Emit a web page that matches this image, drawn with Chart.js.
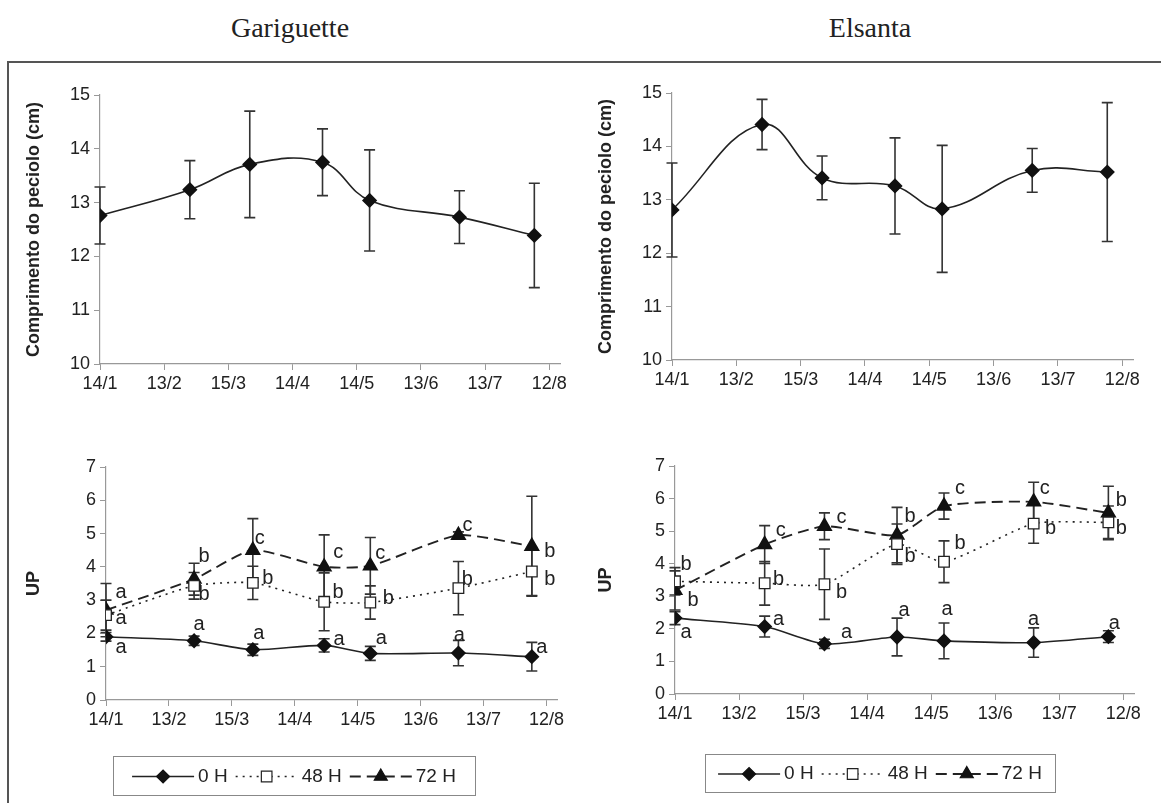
<!DOCTYPE html>
<html>
<head>
<meta charset="utf-8">
<script src="https://cdn.jsdelivr.net/npm/chart.js@4.4.1/dist/chart.umd.min.js"></script>
<style>
  body { margin: 0; background: #fff; width: 1161px; height: 803px; overflow: hidden; position: relative; }
  .title { position: absolute; top: 12px; width: 300px; text-align: center; font: 28px "Liberation Serif", "DejaVu Serif", serif; color: #222; }
  .frame { position: absolute; left: 7px; top: 61px; width: 1200px; height: 800px; border-left: 2px solid #555; border-top: 2px solid #555; }
  canvas { position: absolute; }
</style>
</head>
<body>
<div class="title" style="left:140px">Gariguette</div>
<div class="title" style="left:720px">Elsanta</div>
<div class="frame"></div>
<canvas id="tl" style="left:20px;top:66px" width="560" height="340"></canvas>
<canvas id="tr" style="left:592px;top:66px" width="565" height="336"></canvas>
<canvas id="bl" style="left:20px;top:440px" width="560" height="363"></canvas>
<canvas id="br" style="left:592px;top:440px" width="565" height="363"></canvas>
<script>
// data
var tickDays = [0, 30, 60, 90, 120, 150, 180, 210];
var tickLabels = ["14/1", "13/2", "15/3", "14/4", "14/5", "13/6", "13/7", "12/8"];
var sampleDays = [0, 42, 70, 104, 126, 168, 203];

var garPeciolo = [12.76, 13.24, 13.71, 13.75, 13.04, 12.73, 12.39];
var garPecioloErr = [0.53, 0.54, 0.99, 0.62, 0.94, 0.49, 0.97];
var elsPeciolo = [12.81, 14.41, 13.41, 13.26, 12.83, 13.55, 13.52];
var elsPecioloErr = [0.88, 0.47, 0.41, 0.9, 1.19, 0.41, 1.3];

var garUP0 = [1.9, 1.78, 1.51, 1.64, 1.4, 1.41, 1.3];
var garUP0Err = [0.13, 0.14, 0.17, 0.2, 0.21, 0.38, 0.43];
var garUP48 = [2.55, 3.43, 3.52, 2.95, 2.93, 3.36, 3.86];
var garUP48Err = [0.45, 0.4, 0.5, 0.87, 0.5, 0.8, 0.72];
var garUP72 = [2.7, 3.63, 4.5, 4.0, 4.03, 4.95, 4.62];
var garUP72Err = [0.8, 0.48, 0.95, 0.96, 0.85, 0.1, 1.5];

var elsUP0 = [2.33, 2.07, 1.54, 1.75, 1.63, 1.58, 1.76];
var elsUP0Err = [0.2, 0.32, 0.14, 0.58, 0.55, 0.45, 0.18];
var elsUP48 = [3.46, 3.4, 3.37, 4.6, 4.06, 5.23, 5.27];
var elsUP48Err = [0.42, 0.67, 1.08, 0.62, 0.64, 0.6, 0.5];
var elsUP72 = [3.18, 4.59, 5.15, 4.88, 5.77, 5.9, 5.56];
var elsUP72Err = [0.6, 0.58, 0.41, 0.85, 0.4, 0.6, 0.82];

// significance letters
var garL0 = ["a", "a", "a", "a", "a", "a", "a"];
var garL48 = ["a", "b", "b", "b", "b", "b", "b"];
var garL72 = ["a", "b", "c", "c", "c", "c", "b"];
var elsL0 = ["a", "a", "a", "a", "a", "a", "a"];
var elsL48 = ["b", "b", "b", "b", "b", "b", "b"];
var elsL72 = ["b", "c", "c", "b", "c", "c", "b"];

var seriesNames = ["0 H", "48 H", "72 H"];

// letter offsets (px) from each marker
var garOff0 = [[15, 11], [5, -16], [6, -16], [15, -6], [11, -15], [1, -18], [10, -9]];
var garOff48 = [[15, 3], [10, 9], [15, -4], [14, -9], [18, -4], [9, -9], [18, 8]];
var garOff72 = [[15, -18], [10, -23], [7, -12], [14, -14], [10, -12], [9, -10], [18, 5]];
var elsOff0 = [[11, 14], [14, -7], [22, -11], [7, -27], [3, -31], [0, -23], [6, -13]];
var elsOff48 = [[11, -17], [14, -4], [17, 8], [13, 12], [16, -18], [17, 5], [13, 6]];
var elsOff72 = [[18, 10], [16, -14], [17, -9], [13, -19], [16, -18], [11, -13], [13, -12]];

Chart.defaults.font.family = "'Liberation Sans', Arial, sans-serif";
Chart.defaults.font.size = 18;
Chart.defaults.color = "#222";

function pts(vals) {
  return vals.map(function (v, i) {
    return { x: sampleDays[i], y: v };
  });
}

//error bars
var errorBars = {
  id: "errorBars",
  beforeDatasetsDraw: function (chart) {
    var ctx = chart.ctx;
    var ys = chart.scales.y;
    chart.data.datasets.forEach(function (ds, i) {
      if (!ds.errors) return;
      chart.getDatasetMeta(i).data.forEach(function (pt, j) {
        var v = ds.data[j].y, e = ds.errors[j];
        var top = ys.getPixelForValue(v + e), bot = ys.getPixelForValue(v - e);
        ctx.save();
        ctx.strokeStyle = "#333";
        ctx.lineWidth = 1.6;
        ctx.beginPath();
        ctx.moveTo(pt.x, top); ctx.lineTo(pt.x, bot);
        ctx.moveTo(pt.x - 5.5, top); ctx.lineTo(pt.x + 5.5, top);
        ctx.moveTo(pt.x - 5.5, bot); ctx.lineTo(pt.x + 5.5, bot);
        ctx.stroke();
        ctx.restore();
      });
    });
  }
};

//letters
var letters = {
  id: "letters",
  afterDatasetsDraw: function (chart) {
    var ctx = chart.ctx;
    chart.data.datasets.forEach(function (ds, i) {
      if (!ds.letters) return;
      chart.getDatasetMeta(i).data.forEach(function (pt, j) {
        ctx.save();
        ctx.font = "20px 'Liberation Sans', Arial, sans-serif";
        ctx.fillStyle = "#222";
        ctx.textAlign = "center";
        ctx.textBaseline = "middle";
        ctx.fillText(ds.letters[j], pt.x + ds.letterOffsets[j][0], pt.y + ds.letterOffsets[j][1]);
        ctx.restore();
      });
    });
  }
};

//legend box
var boxLegend = {
  id: "boxLegend",
  afterDraw: function (chart, args, opts) {
    if (!opts.box) return;
    var ctx = chart.ctx, b = opts.box;
    ctx.save();
    ctx.strokeStyle = "#888";
    ctx.lineWidth = 1;
    ctx.strokeRect(b.x + 0.5, b.y + 0.5, b.w, b.h);
    ctx.font = "19px 'Liberation Sans', Arial, sans-serif";
    var seg = 62, gap = 4, sep = 8;
    var total = 0;
    chart.data.datasets.forEach(function (ds, i) {
      total += seg + gap + ctx.measureText(ds.label).width + (i ? sep : 0);
    });
    var x = b.x + (b.w - total) / 2, y = b.y + b.h / 2 + 1;
    chart.data.datasets.forEach(function (ds, i) {
      if (i) x += sep;
      ctx.strokeStyle = ds.borderColor;
      ctx.lineWidth = ds.borderWidth;
      ctx.setLineDash(ds.borderDash || []);
      ctx.beginPath();
      ctx.moveTo(x, y); ctx.lineTo(x + seg, y);
      ctx.stroke();
      ctx.setLineDash([]);
      ctx.fillStyle = ds.pointBackgroundColor;
      ctx.strokeStyle = ds.pointBorderColor;
      ctx.lineWidth = 1.2;
      Chart.helpers.drawPoint(ctx, {
        pointStyle: ds.pointStyle, radius: ds.pointRadius, borderWidth: 1.2
      }, x + seg / 2, y);
      x += seg + gap;
      ctx.fillStyle = "#222";
      ctx.textBaseline = "middle";
      ctx.fillText(ds.label, x, y);
      x += ctx.measureText(ds.label).width;
    });
    ctx.restore();
  }
};

function makePanel(id, cfg) {
  var cv = document.getElementById(id);
  var W = cv.width;
  new Chart(cv.getContext("2d"), {
    type: "line",
    data: { datasets: cfg.datasets },
    options: {
      responsive: false,
      animation: false,
      layout: {
        padding: { top: cfg.area.top, right: W - cfg.area.right, bottom: cfg.padBottom || 0, left: 0 }
      },
      plugins: {
        legend: { display: false },
        tooltip: { enabled: false },
        boxLegend: { box: cfg.legendBox }
      },
      scales: {
        x: {
          type: "linear",
          min: 0,
          max: 215,
          afterBuildTicks: function (s) {
            s.ticks = tickDays.map(function (v) { return { value: v }; });
          },
          afterFit: function (s) {
            s.height = cfg.xHeight;
          },
          ticks: {
            autoSkip: false,
            maxRotation: 0,
            padding: 3,
            callback: function (v) {
              var k = tickDays.indexOf(v);
              return k >= 0 ? tickLabels[k] : "";
            }
          },
          grid: { drawOnChartArea: false, tickLength: 6, color: "#999" },
          border: { color: "#999", width: 1.2 }
        },
        y: {
          min: cfg.yMin,
          max: cfg.yMax,
          afterFit: function (s) {
            s.width = cfg.area.left;
          },
          ticks: { stepSize: 1, padding: 4 },
          grid: { drawOnChartArea: false, tickLength: 6, color: "#999" },
          border: { color: "#999", width: 1.2 },
          title: {
            display: true,
            text: cfg.yTitle,
            font: { weight: "bold", size: 18 },
            color: "#222",
            padding: 3
          }
        }
      }
    },
    plugins: [errorBars, letters, boxLegend]
  });
}

function petioleSet(vals, errs) {
  return [{
    label: "peciolo",
    data: pts(vals),
    errors: errs,
    borderColor: "#222",
    borderWidth: 1.6,
    tension: 0.4,
    pointStyle: "rectRot",
    pointRadius: 6.5,
    pointBackgroundColor: "#111",
    pointBorderColor: "#111"
  }];
}

function upSets(v0, e0, l0, o0, v48, e48, l48, o48, v72, e72, l72, o72) {
  return [
    {
      label: seriesNames[0], data: pts(v0), errors: e0, letters: l0, letterOffsets: o0,
      borderColor: "#222", borderWidth: 1.6, tension: 0.25,
      pointStyle: "rectRot", pointRadius: 6.5, pointBackgroundColor: "#111", pointBorderColor: "#111"
    },
    {
      label: seriesNames[1], data: pts(v48), errors: e48, letters: l48, letterOffsets: o48,
      borderColor: "#222", borderWidth: 1.6, borderDash: [2, 5], tension: 0.2,
      pointStyle: "rect", pointRadius: 7.5, pointBackgroundColor: "#fff", pointBorderColor: "#222", pointBorderWidth: 1.3
    },
    {
      label: seriesNames[2], data: pts(v72), errors: e72, letters: l72, letterOffsets: o72,
      borderColor: "#222", borderWidth: 1.9, borderDash: [11, 6], tension: 0.2,
      pointStyle: "triangle", pointRadius: 7.5, pointBackgroundColor: "#111", pointBorderColor: "#111"
    }
  ];
}

makePanel("tl", {
  datasets: petioleSet(garPeciolo, garPecioloErr),
  area: { left: 80, top: 29, right: 540 },
  xHeight: 42, yMin: 10, yMax: 15,
  yTitle: "Comprimento do peciolo (cm)"
});
makePanel("tr", {
  datasets: petioleSet(elsPeciolo, elsPecioloErr),
  area: { left: 80, top: 27, right: 541 },
  xHeight: 42, yMin: 10, yMax: 15,
  yTitle: "Comprimento do peciolo (cm)"
});
makePanel("bl", {
  datasets: upSets(garUP0, garUP0Err, garL0, garOff0, garUP48, garUP48Err, garL48, garOff48,
    garUP72, garUP72Err, garL72, garOff72),
  area: { left: 86, top: 27, right: 537 },
  xHeight: 40, padBottom: 63, yMin: 0, yMax: 7,
  yTitle: "UP",
  legendBox: { x: 93, y: 316, w: 362, h: 39 }
});
makePanel("br", {
  datasets: upSets(elsUP0, elsUP0Err, elsL0, elsOff0, elsUP48, elsUP48Err, elsL48, elsOff48,
    elsUP72, elsUP72Err, elsL72, elsOff72),
  area: { left: 83, top: 26, right: 542 },
  xHeight: 40, padBottom: 69, yMin: 0, yMax: 7,
  yTitle: "UP",
  legendBox: { x: 113, y: 314, w: 350, h: 38 }
});
</script>
</body>
</html>
